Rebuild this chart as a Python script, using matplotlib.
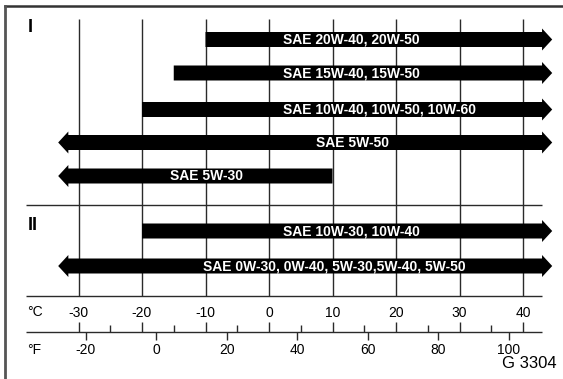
import matplotlib.pyplot as plt
import numpy as np

plt.rcParams['font.family'] = ['Liberation Sans', 'DejaVu Sans']

# Oil grades and their temperature ranges (degrees C, None = open ended)
grades = ['SAE 20W-40, 20W-50', 'SAE 15W-40, 15W-50', 'SAE 10W-40, 10W-50, 10W-60',
          'SAE 5W-50', 'SAE 5W-30', 'SAE 10W-30, 10W-40',
          'SAE 0W-30, 0W-40, 5W-30,5W-40, 5W-50']
low_c = [-10, -15, -20, None, None, -20, None]
high_c = [None, None, None, None, 10, None, None]
groups = ['I', 'II']

celsius_ticks = [-30, -20, -10, 0, 10, 20, 30, 40]
celsius_minor = [-25, -15, -5, 5, 15, 25, 35]
fahrenheit_ticks = [-20, 0, 20, 40, 60, 80, 100]

# layout (pixels in y, degrees C in x)
X0, SCALE = 269, 6.35          # pixel of 0 C, pixels per degree
row_y = [39.5, 73, 109.5, 142.5, 176, 231, 266]
label_x = [2.2, 2.2, 2.2, 13.1, -9.8, 2.2, -10.4]
label_ha = ['left', 'left', 'left', 'center', 'center', 'left', 'left']
group_y = [28, 226]
bar_h, head_h, head_len = 15, 22, 1.6
left_tip, right_tip = -33.2, 44.6


def px(x):
    return (x - X0) / SCALE


fig = plt.figure(figsize=(5.63, 3.79), dpi=100)
ax = fig.add_axes([0, 0, 1, 1])
ax.set_xlim(px(0), px(563))
ax.set_ylim(379, 0)
ax.axis('off')

line_col = '#2a2a2a'

# frame (scan shows only top and left edges)
ax.plot([px(5), px(563)], [6, 6], color='#333333', lw=1.8)
ax.plot([px(5), px(5)], [6, 379], color='#555555', lw=2.0)

# grid
ax.vlines(celsius_ticks, 19, 296, color=line_col, lw=1.0, zorder=1)
ax.hlines([205, 296, 332], px(26), px(542), color=line_col, lw=1.0, zorder=1)

# arrows
for name, lo, hi, y, lx, ha in zip(grades, low_c, high_c, row_y, label_x, label_ha):
    y0, y1 = y - bar_h / 2, y + bar_h / 2
    pts = []
    if hi is None:
        rb = right_tip - head_len
        pts += [(rb, y0), (rb, y - head_h / 2), (right_tip, y), (rb, y + head_h / 2), (rb, y1)]
    else:
        pts += [(hi, y0), (hi, y1)]
    if lo is None:
        lb = left_tip + head_len
        pts += [(lb, y1), (lb, y + head_h / 2), (left_tip, y), (lb, y - head_h / 2), (lb, y0)]
    else:
        pts += [(lo, y1), (lo, y0)]
    xs, ys = zip(*pts)
    ax.fill(xs, ys, color='black', lw=0, zorder=2)
    ax.text(lx, y + 0.5, name, color='white', fontsize=10, fontweight='bold',
            ha=ha, va='center', zorder=3)

for g, y in zip(groups, group_y):
    ax.text(px(28), y, g, fontsize=13, fontweight='bold', ha='left', va='center')

# temperature scales
ax.vlines(celsius_ticks, 322, 332, color=line_col, lw=1.0)
ax.vlines(celsius_minor, 325, 332, color=line_col, lw=1.0)
for t in celsius_ticks:
    ax.text(t, 313, str(t), fontsize=10, ha='center', va='center')

f_pos = [(f - 32) * 5 / 9 for f in fahrenheit_ticks]
ax.vlines(f_pos, 332, 340, color=line_col, lw=1.0)
for f, p in zip(fahrenheit_ticks, f_pos):
    ax.text(p, 350, str(f), fontsize=10, ha='center', va='center')

ax.text(px(27), 312, '°C', fontsize=10, ha='left', va='center')
ax.text(px(27), 350, '°F', fontsize=10, ha='left', va='center')
ax.text(px(557), 364, 'G 3304', fontsize=12, ha='right', va='center')

fig.savefig('out.png', dpi=100)
